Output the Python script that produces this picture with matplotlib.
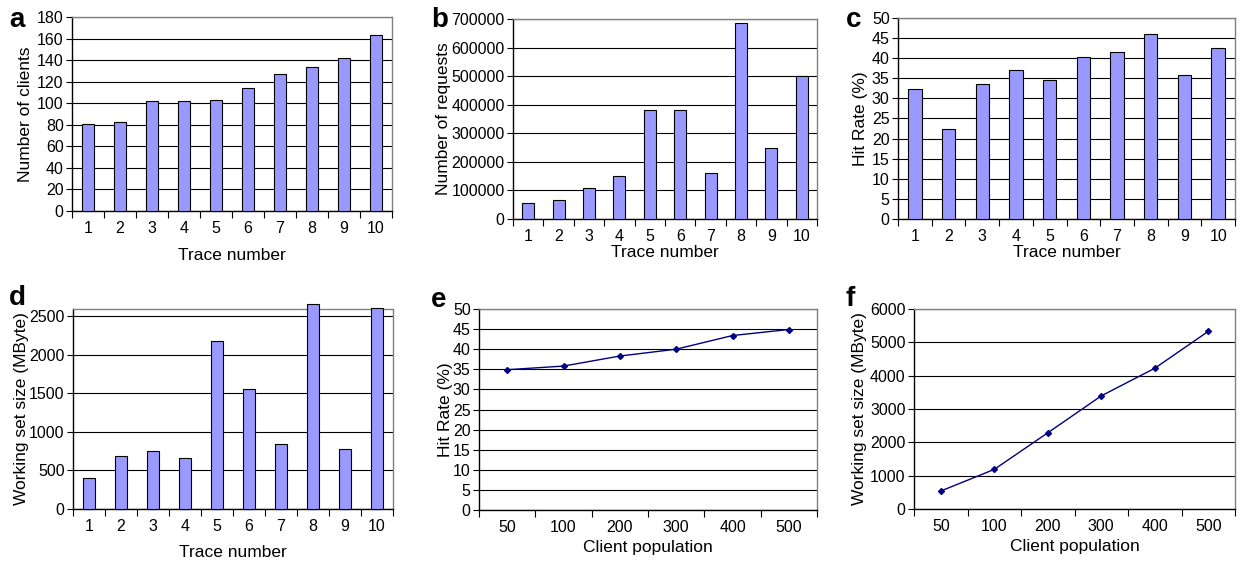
"""Six-panel trace statistics figure (Excel look)."""
import matplotlib
matplotlib.use("Agg")
import matplotlib.pyplot as plt
import numpy as np

plt.rcParams['font.family'] = ['Liberation Sans', 'DejaVu Sans']

# Data
traces = [1, 2, 3, 4, 5, 6, 7, 8, 9, 10]
num_clients = [81, 83, 102, 102, 103, 114, 127, 134, 142, 163]
num_requests = [55000, 68000, 107000, 150000, 382000, 381000, 160000,
                685000, 248000, 502000]
hit_rate = [32.4, 22.3, 33.6, 37.1, 34.6, 40.4, 41.6, 46.0, 35.9, 42.5]
working_set = [397, 681, 750, 655, 2181, 1552, 836, 2651, 772, 2608]

population = ['50', '100', '200', '300', '400', '500']
pop_hit_rate = [34.9, 35.8, 38.3, 40.0, 43.4, 44.9]
pop_working_set = [539, 1188, 2285, 3393, 4222, 5329]

W, H = 1242, 562
BAR_COLOR = '#9999ff'
LINE_COLOR = '#000080'
TICK_SIZE = 11.5
LABEL_SIZE = 12.5


def box(left, top, right, bottom):
    """Convert pixel box to figure fraction rect"""
    return [left / W, 1 - bottom / H, (right - left) / W, (bottom - top) / H]


def excel_axes(ax, ymax, ystep, ncat):
    """Style the axes like an old Excel chart"""
    ax.set_ylim(0, ymax)
    ax.set_yticks(np.arange(0, ymax + 1e-9, ystep))
    ax.yaxis.grid(True, color='black', linewidth=0.8)
    ax.set_axisbelow(True)
    for side in ['top', 'right']:
        ax.spines[side].set_color('#808080')
        ax.spines[side].set_linewidth(1.0)
    for side in ['left', 'bottom']:
        ax.spines[side].set_color('black')
        ax.spines[side].set_linewidth(1.0)
    # category boundaries get tick marks, labels sit in the middle
    ax.set_xticks(np.arange(ncat + 1) - 0.5, minor=True)
    ax.tick_params(axis='x', which='major', length=0, labelsize=TICK_SIZE,
                   pad=7)
    ax.tick_params(axis='x', which='minor', length=5, width=0.8,
                   direction='out')
    ax.tick_params(axis='y', which='major', length=4, width=0.8,
                   labelsize=TICK_SIZE, pad=2)
    ax.set_xlim(-0.5, ncat - 0.5)


def bar_panel(rect, values, ymax, ystep, ylabel, xpad, ypad, clip=True):
    ax = fig.add_axes(rect)
    x = np.arange(len(traces))
    bars = ax.bar(x, values, width=0.4, color=BAR_COLOR, edgecolor='black',
                  linewidth=0.8, zorder=3)
    if not clip:
        for b in bars:
            b.set_clip_on(False)
    excel_axes(ax, ymax, ystep, len(traces))
    ax.set_xticks(x)
    ax.set_xticklabels([str(t) for t in traces])
    ax.set_xlabel('Trace number', fontsize=LABEL_SIZE, labelpad=xpad)
    ax.set_ylabel(ylabel, fontsize=LABEL_SIZE, labelpad=ypad)
    return ax


def line_panel(rect, values, ymax, ystep, ylabel, xpad, ypad):
    ax = fig.add_axes(rect)
    x = np.arange(len(population))
    ax.plot(x, values, color=LINE_COLOR, linewidth=1.0, marker='D',
            markersize=3, zorder=3, clip_on=False)
    excel_axes(ax, ymax, ystep, len(population))
    ax.set_xticks(x)
    ax.set_xticklabels(population)
    ax.set_xlabel('Client population', fontsize=LABEL_SIZE, labelpad=xpad)
    ax.set_ylabel(ylabel, fontsize=LABEL_SIZE, labelpad=ypad)
    return ax


fig = plt.figure(figsize=(W / 100, H / 100), dpi=100)

bar_panel(box(72, 17, 392, 211), num_clients, 180, 20,
          'Number of clients', 9, 3)
bar_panel(box(513, 19, 817, 219), num_requests, 700000, 100000,
          'Number of requests', 1, 0)
bar_panel(box(898, 18, 1235, 219), hit_rate, 50, 5, 'Hit Rate (%)', 1, 3)
ax_d = bar_panel(box(73, 309, 393, 509), working_set, 2590, 500,
                 'Working set size (MByte)', 8, 0, clip=False)
ax_d.set_yticks([0, 500, 1000, 1500, 2000, 2500])

line_panel(box(479, 309, 817, 510), pop_hit_rate, 50, 5, 'Hit Rate (%)',
           4, 0)
line_panel(box(914, 309, 1235, 509), pop_working_set, 6000, 1000,
           'Working set size (MByte)', 4, 2)

# Panel letters
letters = [('a', 9, 27), ('b', 431, 27), ('c', 846, 27),
           ('d', 9, 305), ('e', 431, 307), ('f', 846, 306)]
for text, px, py in letters:
    fig.text(px / W, 1 - py / H, text, fontsize=20, fontweight='bold',
             ha='left', va='baseline')

fig.savefig('out.png', dpi=100)
